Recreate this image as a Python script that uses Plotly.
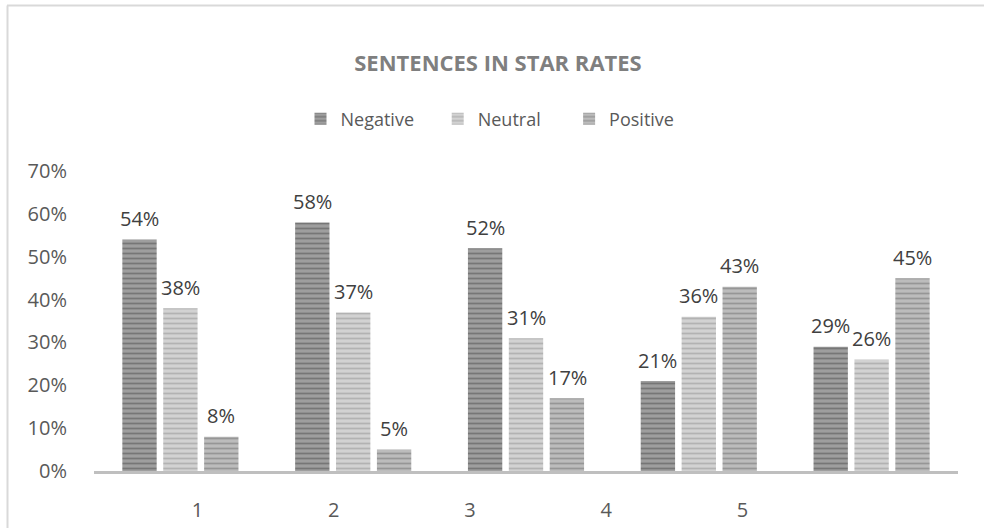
import plotly.graph_objects as go

categories = ["1", "2", "3", "4", "5"]
negative = [0.54, 0.58, 0.52, 0.21, 0.29]
neutral = [0.38, 0.37, 0.31, 0.36, 0.26]
positive = [0.08, 0.05, 0.17, 0.43, 0.45]
y_ticks = [0, 0.1, 0.2, 0.3, 0.4, 0.5, 0.6, 0.7]
y_tick_labels = ["0%", "10%", "20%", "30%", "40%", "50%", "60%", "70%"]

FONT = "Open Sans"
NB = "\u00a0"

series = [
    ("Negative", negative, "#9e9e9e", "#767676", NB * 4, -41),
    ("Neutral", neutral, "#d2d2d2", "#b2b2b2", NB * 5, 0),
    ("Positive", positive, "#bcbcbc", "#969696", "", 41),
]

fig = go.Figure()
for name, vals, bg, fg, pad, _ in series:
    fig.add_trace(go.Bar(
        name=name + pad, x=categories, y=vals,
        marker=dict(color=bg, line=dict(width=0),
                    pattern=dict(shape="-", bgcolor=bg, fgcolor=fg,
                                 size=5, solidity=0.35, fillmode="replace")),
        hoverinfo="x+y",
    ))

# data labels above bars (category index positions on the category axis)
for name, vals, bg, fg, pad, xs in series:
    for i, v in enumerate(vals):
        fig.add_annotation(x=i, y=v, xref="x", yref="y", text=f"{round(v*100)}%",
                           showarrow=False, xshift=xs, yshift=21, yanchor="middle",
                           font=dict(family=FONT, size=20, color="#404040"))

L, R, T, B = 94, 26, 171, 57
W = 984 - L - R
H = 528 - T - B

fig.update_layout(
    width=984, height=528,
    margin=dict(l=L, r=R, t=T, b=B, autoexpand=False),
    paper_bgcolor="white", plot_bgcolor="white",
    barmode="group", bargap=0.29, bargroupgap=0.16,
    title=dict(text="<b>SENTENCES IN STAR RATES</b>", xref="paper",
               x=(498 - L) / W, xanchor="center",
               y=1 - 63 / 528, yanchor="middle",
               font=dict(family=FONT, size=22, color="#7f7f7f")),
    legend=dict(orientation="h", x=0.5 - 36 / W, xanchor="center", y=1 + (171 - 119) / H,
                yanchor="middle", font=dict(family=FONT, size=18, color="#595959"),
                bgcolor="rgba(0,0,0,0)"),
    showlegend=True,
    xaxis=dict(type="category", range=[-0.5, 4.5], autorange=False,
               showgrid=False, showline=True, linecolor="#bfbfbf",
               linewidth=3, showticklabels=False, ticks="", zeroline=False),
    xaxis2=dict(overlaying="x", anchor="y", side="bottom", range=[-0.76, -0.76 + W / 136.25],
                autorange=False,
                tickmode="array", tickvals=[0, 1, 2, 3, 4], ticktext=categories,
                showgrid=False, showline=False, zeroline=False, ticks="outside",
                ticklen=21, tickcolor="rgba(0,0,0,0)",
                tickfont=dict(family=FONT, size=20, color="#595959")),
    yaxis=dict(range=[0, 0.7], autorange=False, tickvals=y_ticks, ticktext=y_tick_labels,
               showgrid=False, zeroline=False, showline=False, ticks="outside",
               ticklen=22, tickcolor="rgba(0,0,0,0)",
               tickfont=dict(family=FONT, size=20, color="#595959")),
)

# invisible trace to activate xaxis2
fig.add_trace(go.Scatter(x=[0, 4], y=[0, 0], xaxis="x2", mode="markers",
                         marker=dict(opacity=0), showlegend=False, hoverinfo="skip"))

# chart border (top and left visible)
fig.add_shape(type="line", xref="paper", yref="paper",
              x0=(7 - L) / W, x1=(1000 - L) / W, y0=1 + (T - 5.5) / H, y1=1 + (T - 5.5) / H,
              line=dict(color="#d9d9d9", width=2))
fig.add_shape(type="line", xref="paper", yref="paper",
              x0=(7.5 - L) / W, x1=(7.5 - L) / W, y0=1 + (T - 5.5) / H, y1=-(B + 20) / H,
              line=dict(color="#d9d9d9", width=2))

fig.write_html("out.html", config={"displayModeBar": False},
               post_script="document.body.style.margin='0';")
